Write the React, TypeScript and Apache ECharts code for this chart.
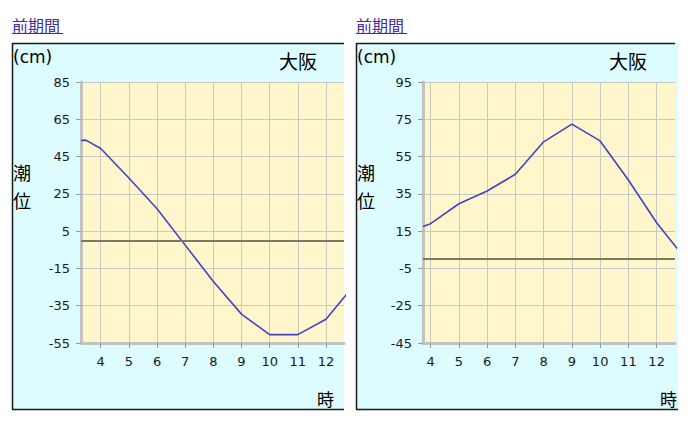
import React, { useEffect, useRef } from "react";
import * as echarts from "echarts";

// 左パネル（時刻, 潮位 cm）
const hoursLeft = [3.3, 3.47, 4, 5, 6, 7, 8, 9, 10, 11, 12, 13];
const tideLeft = [53.6, 53.8, 49.3, 33.5, 17, -2.5, -22, -39.5, -50.5, -50.5, -42.3, -24];
// 右パネル
const hoursRight = [3.73, 4, 5, 6, 7, 8, 9, 10, 11, 12, 13];
const tideRight = [17.5, 19, 29.7, 36.5, 45.5, 62.9, 72.4, 63.4, 42.4, 19.5, 0.5];

const leftTicks = [-55, -35, -15, 5, 25, 45, 65, 85];
const rightTicks = [-45, -25, -5, 15, 35, 55, 75, 95];
const referenceLevel = 0;

const title = "大阪";
const linkText = "前期間";
const unitText = "(cm)";
const xName = "時";
const yNameChars = ["潮", "位"];

const CYAN = "#dcfcff";
const YELLOW = "#fff7cb";
const GRID = "#c9c9c4";
const AXIS = "#c2c2c2";
const LINE = "#4343c2";
const ZERO = "#7a7a62";
const FONT = "DejaVu Sans";
const CJK = "Noto Sans CJK JP";

export default function App() {
  const ref = useRef<HTMLDivElement>(null);
  useEffect(() => {
    if (!ref.current) return;
    const chart = echarts.init(ref.current, undefined, { renderer: "svg" });

    const leftOffset = leftTicks[0] + 60; // axis runs -60..80, label = v + offset
    const rightOffset = rightTicks[0] + 60;

    const yAxisCfg = (gridIndex: number, offset: number) => ({
      type: "value",
      gridIndex,
      min: -60,
      max: 80,
      interval: 20,
      axisLine: { show: true, onZero: false, lineStyle: { color: AXIS, width: 3 } },
      axisTick: { show: true, length: 5, lineStyle: { color: "#9a9a9a", width: 1 } },
      axisLabel: {
        formatter: (v: number) => String(v + offset),
        margin: 11,
        color: "#1a1a1a",
        fontSize: 13,
        fontFamily: FONT,
      },
      splitLine: { show: true, lineStyle: { color: GRID, width: 1 } },
    });

    const xAxisCfg = (gridIndex: number, min: number, max: number) => ({
      type: "value",
      gridIndex,
      min,
      max,
      splitNumber: 9,
      axisLine: { show: true, onZero: false, lineStyle: { color: AXIS, width: 3 } },
      axisTick: { show: true, length: 5, lineStyle: { color: "#9a9a9a", width: 1 } },
      axisLabel: {
        showMinLabel: false,
        showMaxLabel: false,
        formatter: (v: number) => (Number.isInteger(v) ? String(v) : ""),
        margin: 12,
        color: "#1a1a1a",
        fontSize: 13,
        fontFamily: FONT,
      },
      splitLine: {
        show: true,
        showMinLine: false,
        showMaxLine: false,
        lineStyle: { color: GRID, width: 1 },
      },
    });

    const seriesCfg = (idx: number, hours: number[], vals: number[], offset: number) => ({
      type: "line",
      xAxisIndex: idx,
      yAxisIndex: idx,
      data: hours.map((h, i) => [h, vals[i] - offset]),
      showSymbol: false,
      clip: true,
      lineStyle: { color: LINE, width: 1.6 },
      markLine: {
        silent: true,
        symbol: "none",
        label: { show: false },
        lineStyle: { color: ZERO, width: 2, type: "solid" },
        data: [{ yAxis: referenceLevel - offset }],
      },
    });

    const panelTexts = (x0: number, titleX: number, xNameX: number) => [
      { type: "text", style: { text: unitText, x: x0 + 1, y: 57, verticalAlign: "middle", font: `17px '${FONT}'`, fill: "#000" } },
      { type: "text", style: { text: title, x: titleX, y: 60, verticalAlign: "middle", font: `19px '${CJK}'`, fill: "#000" } },
      { type: "text", style: { text: yNameChars[0], x: x0 + 1, y: 172, verticalAlign: "middle", font: `18px '${CJK}'`, fill: "#000" } },
      { type: "text", style: { text: yNameChars[1], x: x0 + 1, y: 200, verticalAlign: "middle", font: `18px '${CJK}'`, fill: "#000" } },
      { type: "text", style: { text: xName, x: xNameX, y: 398, verticalAlign: "middle", font: `17px '${CJK}'`, fill: "#000" } },
    ];

    const border = (x1: number, y1: number, x2: number, y2: number) => ({
      type: "line",
      z: 100,
      shape: { x1, y1, x2, y2 },
      style: { stroke: "#1a1a1a", lineWidth: 1.5 },
    });

    chart.setOption({
      animation: false,
      backgroundColor: "#fff",
      graphic: [
        { type: "rect", z: -100, shape: { x: 12, y: 43, width: 332, height: 367 }, style: { fill: CYAN } },
        { type: "rect", z: -100, shape: { x: 356, y: 43, width: 322, height: 367 }, style: { fill: CYAN } },
        border(12.5, 43, 12.5, 410),
        border(12, 43.5, 344, 43.5),
        border(12, 409.5, 344, 409.5),
        border(356.5, 43, 356.5, 410),
        border(356, 43.5, 675, 43.5),
        border(356, 409.5, 678, 409.5),
        { type: "text", style: { text: linkText, x: 12, y: 25, verticalAlign: "middle", font: `16px '${CJK}'`, fill: "#3f2e9e" } },
        { type: "line", shape: { x1: 12, y1: 33.5, x2: 63, y2: 33.5 }, style: { stroke: "#3f2e9e", lineWidth: 1 } },
        { type: "text", style: { text: linkText, x: 356, y: 25, verticalAlign: "middle", font: `16px '${CJK}'`, fill: "#3f2e9e" } },
        { type: "line", shape: { x1: 356, y1: 33.5, x2: 407, y2: 33.5 }, style: { stroke: "#3f2e9e", lineWidth: 1 } },
        ...panelTexts(12, 279, 317),
        ...panelTexts(356, 609, 660),
      ],
      grid: [
        { left: 81, top: 82, width: 263, height: 261, show: true, backgroundColor: YELLOW, borderWidth: 0 },
        { left: 423, top: 82, width: 252, height: 261, show: true, backgroundColor: YELLOW, borderWidth: 0 },
      ],
      xAxis: [xAxisCfg(0, 3.3, 12.64), xAxisCfg(1, 3.73, 12.65)],
      yAxis: [yAxisCfg(0, leftOffset), yAxisCfg(1, rightOffset)],
      series: [
        seriesCfg(0, hoursLeft, tideLeft, leftOffset),
        seriesCfg(1, hoursRight, tideRight, rightOffset),
      ],
    });
    return () => chart.dispose();
  }, []);
  return (
    <div
      ref={ref}
      style={{ position: "fixed", left: 0, top: 0, width: 690, height: 427 }}
    />
  );
}
